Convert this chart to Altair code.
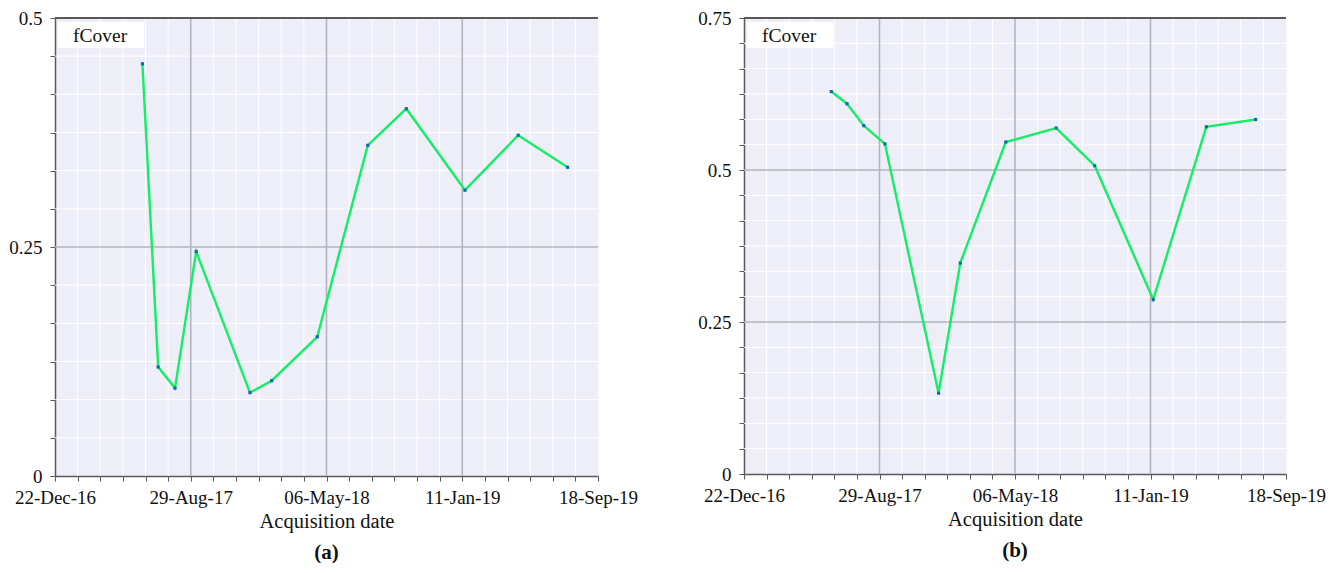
import altair as alt
import pandas as pd
from datetime import datetime, timezone, timedelta

FONT = "Liberation Serif"

# ---- data ----
dates = ["2017-06-01", "2017-06-30", "2017-07-31", "2017-09-08", "2017-12-16", "2018-01-25",
         "2018-04-19", "2018-07-21", "2018-09-30", "2019-01-16", "2019-04-24", "2019-07-24"]
fcover_a = [0.450, 0.119, 0.096, 0.245, 0.091, 0.104, 0.152, 0.361, 0.401, 0.312, 0.372, 0.337]
fcover_b = [0.629, 0.609, 0.573, 0.543, 0.133, 0.347, 0.546, 0.569, 0.507, 0.287, 0.571, 0.583]
y_max = [0.5, 0.75]
panel_tags = ["(a)", "(b)"]
series_label = "fCover"
x_title = "Acquisition date"
x_start = datetime(2016, 12, 22, tzinfo=timezone.utc)   # 22-Dec-16
x_major_step_days = 250                                  # 22-Dec-16 .. 18-Sep-19
x_minor_per_major = 6
y_major_step = 0.25
y_minor_per_major = 6

# ---- derived tick tables ----
DAY = 86400000
start_ms = int(x_start.timestamp() * 1000)
end_ms = start_ms + 4 * x_major_step_days * DAY
minor_ms = [start_ms + round(k * x_major_step_days * DAY / x_minor_per_major)
            for k in range(4 * x_minor_per_major + 1)]
major_ms = [start_ms + k * x_major_step_days * DAY for k in range(5)]


def iso(ms):
    return (x_start + timedelta(milliseconds=ms - start_ms)).strftime("%Y-%m-%dT%H:%M:%SZ")


minor_x_only = [iso(m) for m in minor_ms if m not in major_ms]
major_x_inner = [iso(m) for m in major_ms[1:-1]]

x_label_expr = (f"((time(datum.value) - {start_ms}) % {x_major_step_days * DAY}) < 1000 "
                f"? utcFormat(datum.value, '%d-%b-%y') : ''")
y_label_expr = "indexof([0, 0.25, 0.5, 0.75], datum.value) >= 0 ? datum.label : ''"

BG = "#EEEEF8"
MAJOR = "#B4B4BE"
AXIS = "#5A5A5A"
LINE = "#14EE66"
DOT = "#1466B4"


def panel(values, ymax, tag, width, height):
    df = pd.DataFrame({"date": dates, "fcover": values})
    n_major = int(round(ymax / y_major_step))
    y_all = [round(k * y_major_step / y_minor_per_major, 6) for k in range(n_major * y_minor_per_major + 1)]
    y_minor_only = [v for k, v in enumerate(y_all) if k % y_minor_per_major != 0]
    y_major_inner = [round(k * y_major_step, 6) for k in range(1, n_major)]

    xs = alt.Scale(type="utc", domain=[start_ms, end_ms], nice=False)
    ys = alt.Scale(domain=[0, ymax], nice=False, zero=True)
    xa = alt.Axis(values=minor_ms, labelExpr=x_label_expr, grid=False,
                  tickSize=5, tickColor=AXIS, domainColor=AXIS, domainWidth=1.5,
                  labelFont=FONT, labelFontSize=19, labelColor="#111",
                  labelPadding=7, labelFlush=False, labelOverlap=False,
                  titleFont=FONT, titleFontSize=20.5, titleFontWeight="normal",
                  titleColor="#111", titlePadding=4)
    ya = alt.Axis(values=y_all, format="~g", labelExpr=y_label_expr, grid=False,
                  tickSize=5, tickColor=AXIS, domainColor=AXIS, domainWidth=1.5,
                  labelFont=FONT, labelFontSize=19, labelColor="#111",
                  labelPadding=8, labelOverlap=False)

    def X(f):
        return alt.X(f, scale=xs, axis=xa, title=x_title)

    def Y(f):
        return alt.Y(f, scale=ys, axis=ya, title=None)

    minor_v = alt.Chart(pd.DataFrame({"t": minor_x_only})).mark_rule(
        color="white", strokeWidth=1).encode(x=X("t:T"))
    minor_h = alt.Chart(pd.DataFrame({"v": y_minor_only})).mark_rule(
        color="white", strokeWidth=1).encode(y=Y("v:Q"))
    major_v = alt.Chart(pd.DataFrame({"t": major_x_inner})).mark_rule(
        color=MAJOR, strokeWidth=1.6).encode(x=X("t:T"))
    major_h = alt.Chart(pd.DataFrame({"v": y_major_inner})).mark_rule(
        color=MAJOR, strokeWidth=1.6).encode(y=Y("v:Q"))

    base = alt.Chart(df)
    line = base.mark_line(color=LINE, strokeWidth=2.4).encode(x=X("date:T"), y=Y("fcover:Q"))
    pts = base.mark_point(shape="square", filled=True, size=10, color=DOT, opacity=1).encode(
        x=X("date:T"), y=Y("fcover:Q"))

    top_border = alt.Chart(df).mark_rule(color=AXIS, strokeWidth=1.5).encode(
        x=alt.value(0), x2=alt.value(width), y=alt.value(0))
    box = alt.Chart(df).mark_rect(color="white").encode(
        x=alt.value(3), x2=alt.value(89), y=alt.value(4), y2=alt.value(30))
    label = alt.Chart(pd.DataFrame({"s": [series_label]})).mark_text(
        font=FONT, fontSize=19.5, color="#111", align="left", baseline="middle").encode(
        x=alt.value(18), y=alt.value(18), text="s:N")

    return alt.layer(minor_v, minor_h, major_v, major_h, line, pts, box, label, top_border).properties(
        width=width, height=height,
        title=alt.TitleParams(tag, orient="bottom", font=FONT, fontSize=21, fontWeight="bold",
                              color="#111", offset=10, frame="group", anchor="middle"))


left = panel(fcover_a, y_max[0], panel_tags[0], 543, 458)
right = panel(fcover_b, y_max[1], panel_tags[1], 542, 456)

chart = alt.hconcat(left, right, spacing=146, bounds="flush").properties(
    padding={"left": 0, "top": 0, "right": 0, "bottom": 0}
).configure_view(fill=BG, stroke="transparent")

chart.save("out.html", embed_options={"renderer": "svg", "actions": False})
